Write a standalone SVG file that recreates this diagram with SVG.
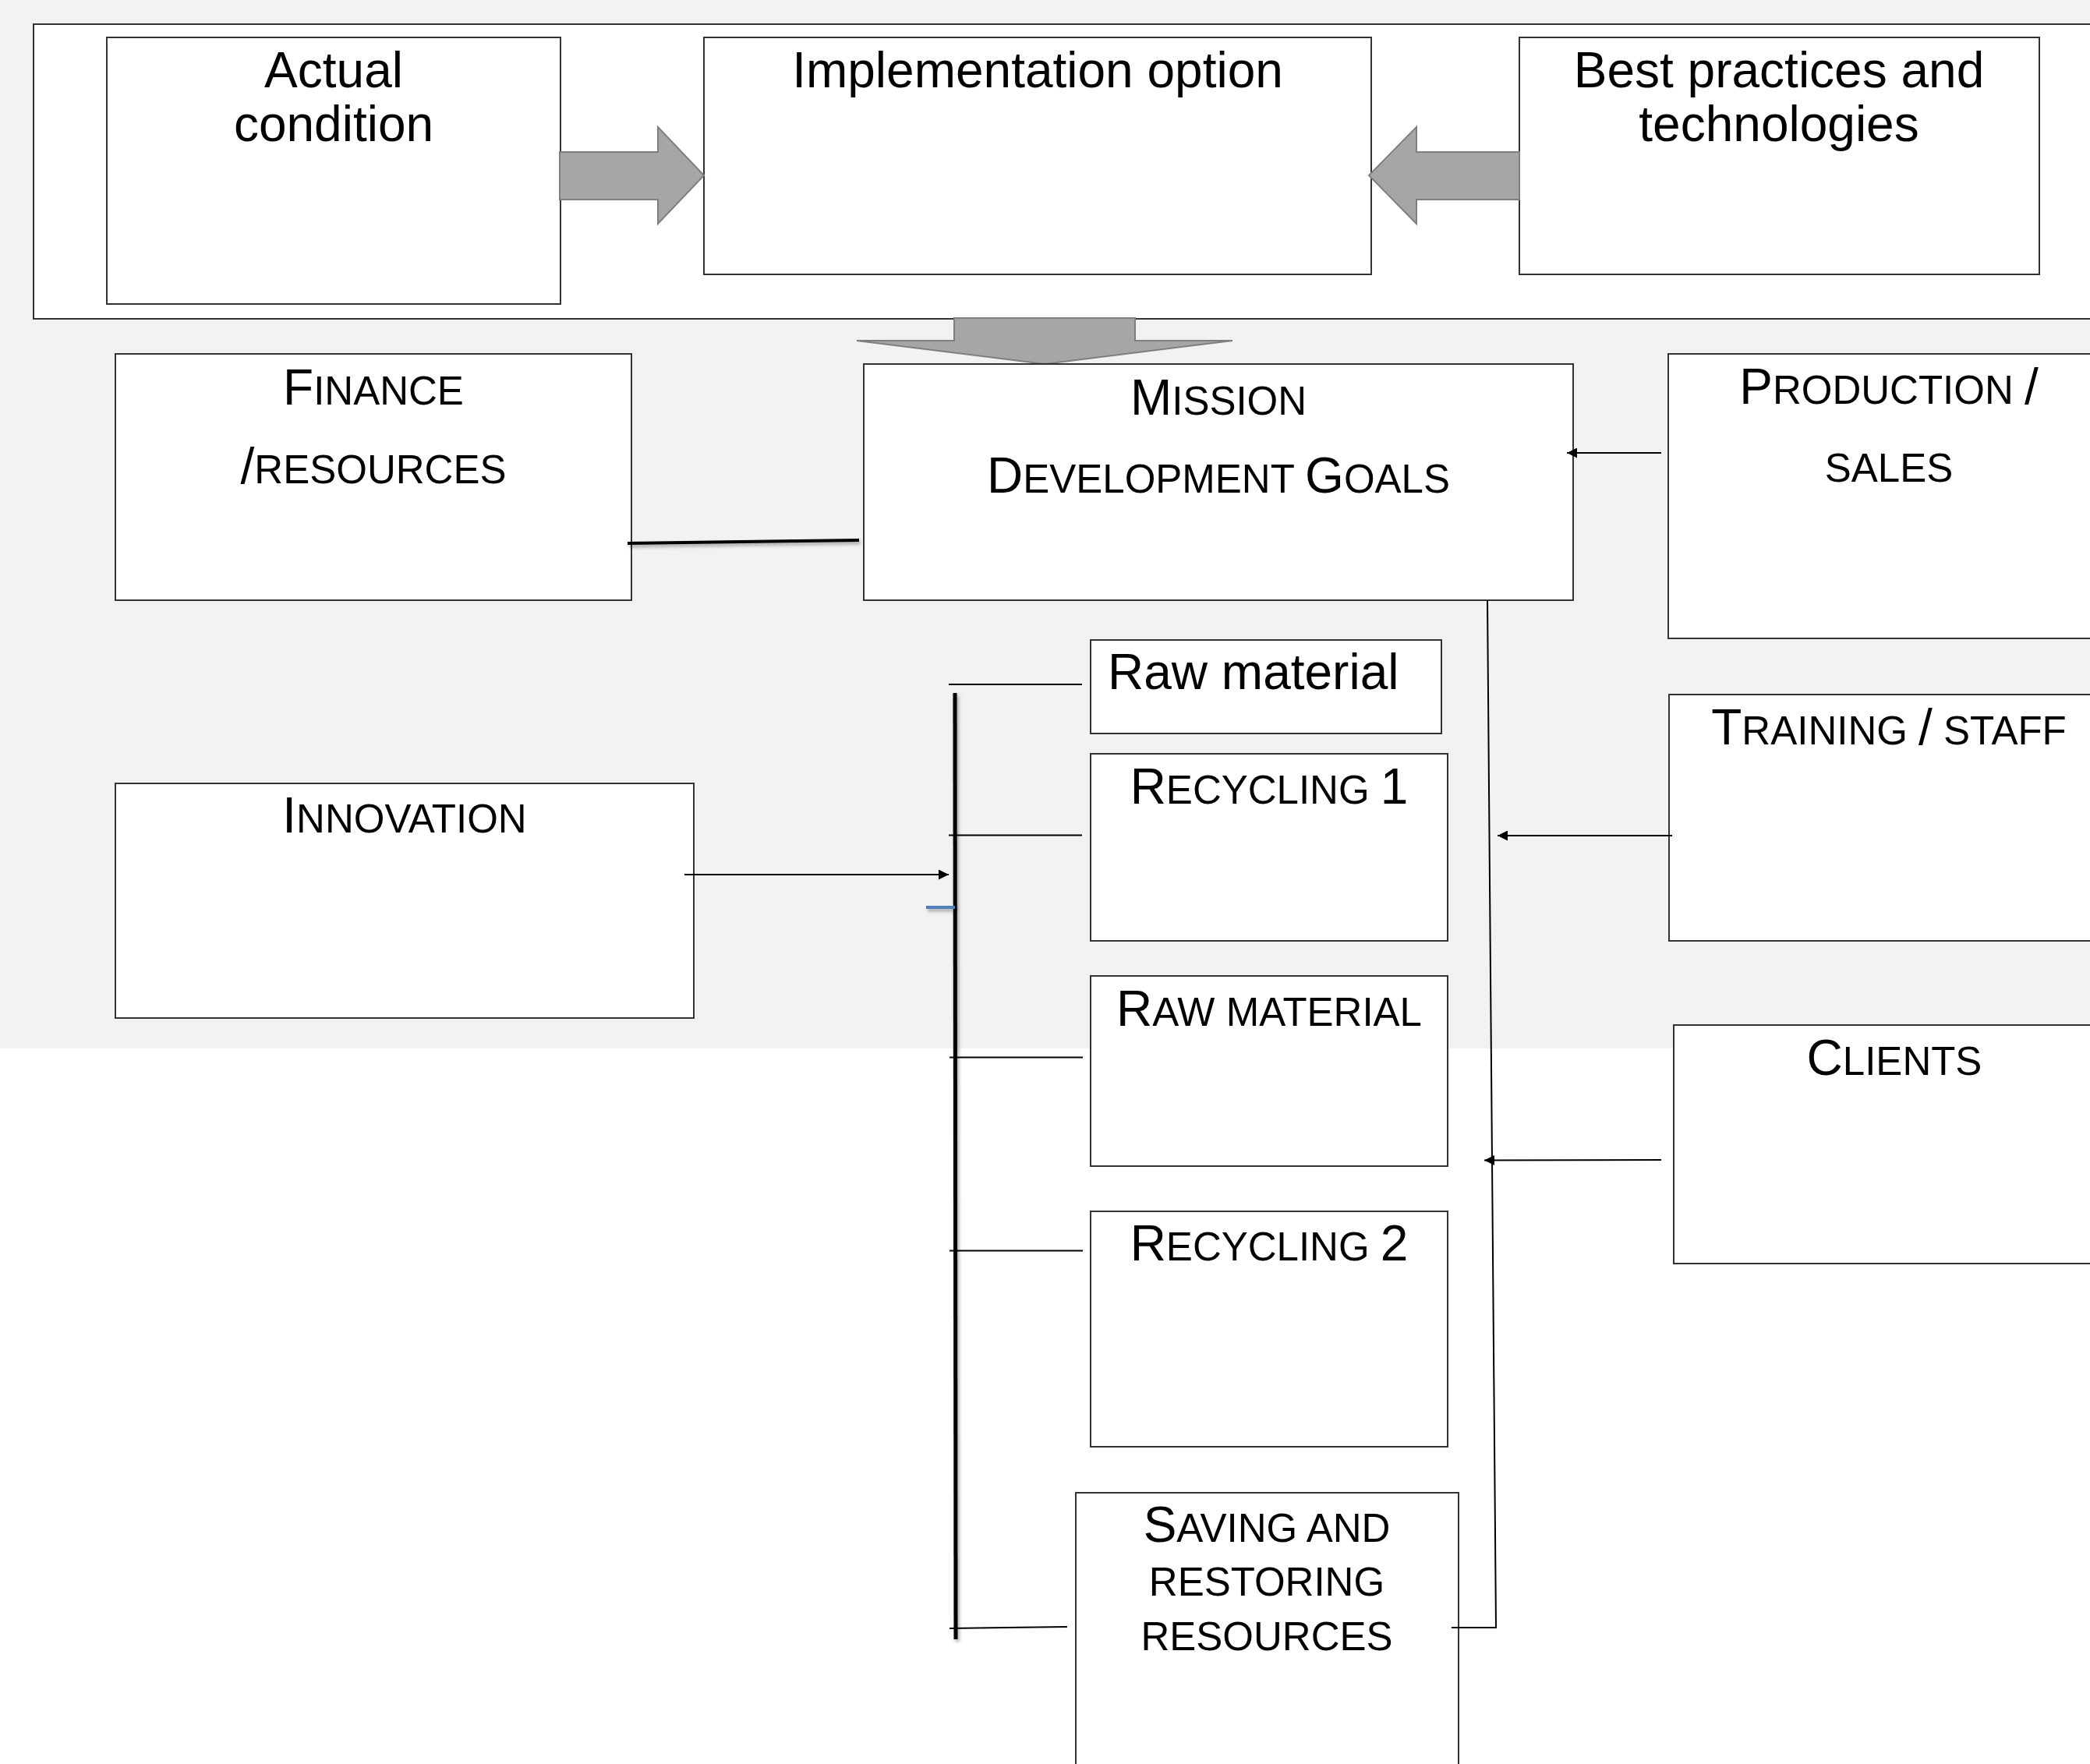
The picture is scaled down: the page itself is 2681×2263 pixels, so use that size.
<svg xmlns="http://www.w3.org/2000/svg" width="2681" height="2263" viewBox="0 0 2681 2263">
<defs>
<style>
.box{fill:#ffffff;stroke:#333333;stroke-width:2}
.t{font-family:"Liberation Sans",Arial,sans-serif;font-size:64px;fill:#000000;text-anchor:middle}
.s{font-size:51px}
.c{fill:none;stroke:#000000;stroke-width:2}
.blk{fill:#a6a6a6;stroke:#7f7f7f;stroke-width:2}
</style>
<marker id="arr" viewBox="0 0 10 10" refX="10" refY="5" markerUnits="userSpaceOnUse" markerWidth="15" markerHeight="13" orient="auto">
<path d="M0,0 L10,5 L0,10 z" fill="#000000"/>
</marker>
<filter id="sh" filterUnits="userSpaceOnUse" x="0" y="0" width="2681" height="2263">
<feDropShadow dx="2" dy="3" stdDeviation="2" flood-color="#000000" flood-opacity="0.35"/>
</filter>
</defs>
<rect x="0" y="0" width="2681" height="2263" fill="#ffffff"/>
<rect x="0" y="0" width="2681" height="1345" fill="#f2f2f2"/>

<g id="outer-frame"><rect class="box" x="43" y="31" width="2700" height="378"/></g>

<g id="actual-condition">
<rect class="box" x="137" y="48" width="582" height="342"/>
<text class="t" x="428" y="112">Actual</text>
<text class="t" x="428" y="181">condition</text>
</g>
<g id="implementation-option">
<rect class="box" x="903" y="48" width="856" height="304"/>
<text class="t" x="1331" y="112">Implementation option</text>
</g>
<g id="best-practices">
<rect class="box" x="1949" y="48" width="667" height="304"/>
<text class="t" x="2282" y="112">Best practices and</text>
<text class="t" x="2282" y="181">technologies</text>
</g>

<g id="block-arrows">
<polygon class="blk" points="718,195 844,195 844,163 903,225 844,287 844,256 718,256"/>
<polygon class="blk" points="1949,195 1817,195 1817,163 1756,225 1817,287 1817,256 1949,256"/>
<polygon class="blk" points="1224,408 1456,408 1456,437 1581,437 1340,467 1099,437 1224,437"/>
</g>

<g id="finance">
<rect class="box" x="148" y="454" width="662" height="316"/>
<text class="t" x="479" y="519">F<tspan class="s">INANCE</tspan></text>
<text class="t" x="479" y="620">/<tspan class="s">RESOURCES</tspan></text>
</g>
<g id="mission">
<rect class="box" x="1108" y="467" width="910" height="303"/>
<text class="t" x="1563" y="532">M<tspan class="s">ISSION</tspan></text>
<text class="t" x="1563" y="632">D<tspan class="s">EVELOPMENT </tspan>G<tspan class="s">OALS</tspan></text>
</g>
<g id="production-sales">
<rect class="box" x="2140" y="454" width="600" height="365"/>
<text class="t" x="2423" y="518">P<tspan class="s">RODUCTION </tspan>/</text>
<text class="t" x="2423" y="618"><tspan class="s">SALES</tspan></text>
</g>
<g id="innovation">
<rect class="box" x="148" y="1005" width="742" height="301"/>
<text class="t" x="519" y="1068">I<tspan class="s">NNOVATION</tspan></text>
</g>
<g id="raw-material-1">
<rect class="box" x="1399" y="821" width="450" height="120"/>
<text class="t" x="1421" y="884" style="text-anchor:start">Raw material</text>
</g>
<g id="recycling-1">
<rect class="box" x="1399" y="967" width="458" height="240"/>
<text class="t" x="1628" y="1031">R<tspan class="s">ECYCLING </tspan>1</text>
</g>
<g id="raw-material-2">
<rect class="box" x="1399" y="1252" width="458" height="244"/>
<text class="t" x="1628" y="1316">R<tspan class="s">AW MATERIAL</tspan></text>
</g>
<g id="recycling-2">
<rect class="box" x="1399" y="1554" width="458" height="302"/>
<text class="t" x="1628" y="1617">R<tspan class="s">ECYCLING </tspan>2</text>
</g>
<g id="saving-restoring">
<rect class="box" x="1380" y="1915" width="491" height="400"/>
<text class="t" x="1625" y="1978">S<tspan class="s">AVING AND</tspan></text>
<text class="t" x="1625" y="2047"><tspan class="s">RESTORING</tspan></text>
<text class="t" x="1625" y="2117"><tspan class="s">RESOURCES</tspan></text>
</g>
<g id="training-staff">
<rect class="box" x="2141" y="891" width="600" height="316"/>
<text class="t" x="2423" y="955">T<tspan class="s">RAINING </tspan>/<tspan class="s"> STAFF</tspan></text>
</g>
<g id="clients">
<rect class="box" x="2147" y="1315" width="600" height="306"/>
<text class="t" x="2430" y="1379">C<tspan class="s">LIENTS</tspan></text>
</g>

<g id="connectors">
<line x1="805" y1="697" x2="1102" y2="693" stroke="#000000" stroke-width="4" filter="url(#sh)"/>
<line x1="1225" y1="889" x2="1226" y2="2103" stroke="#000000" stroke-width="5" filter="url(#sh)"/>
<line class="c" x1="1217" y1="878" x2="1388" y2="878"/>
<line class="c" x1="1217" y1="1071.5" x2="1388" y2="1071.5"/>
<line class="c" x1="1218" y1="1356.5" x2="1389" y2="1356.5"/>
<line class="c" x1="1218" y1="1604.5" x2="1389" y2="1604.5"/>
<line class="c" x1="1218" y1="2089" x2="1369" y2="2087"/>
<line class="c" x1="878" y1="1122" x2="1217" y2="1122" marker-end="url(#arr)"/>
<line x1="1188" y1="1164" x2="1225" y2="1164" stroke="#4f81bd" stroke-width="4" filter="url(#sh)"/>
<polyline class="c" points="1908,770 1919,2088 1862,2088"/>
<line class="c" x1="2131" y1="581" x2="2010" y2="581" marker-end="url(#arr)"/>
<line class="c" x1="2145" y1="1072" x2="1921" y2="1072" marker-end="url(#arr)"/>
<line class="c" x1="2131" y1="1488" x2="1904" y2="1488.5" marker-end="url(#arr)"/>
</g>
</svg>
